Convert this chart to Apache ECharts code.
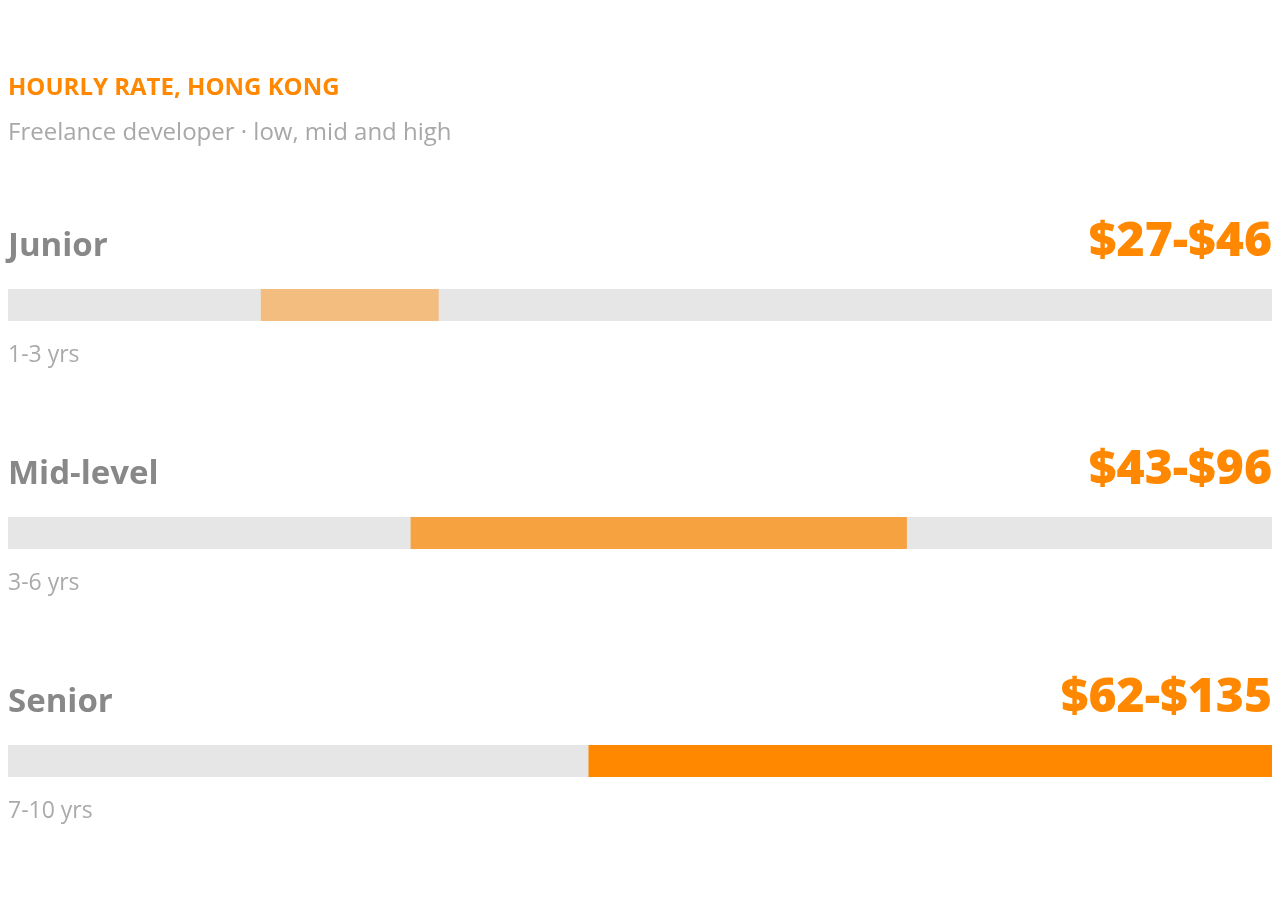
<!DOCTYPE html>
<html>
<head>
<meta charset="utf-8">
<title>Hourly rate, Hong Kong</title>
<style>
  html, body { margin: 0; padding: 0; background: #ffffff; }
  #chart { width: 1280px; height: 920px; }
</style>
</head>
<body>
<div id="chart"></div>
<script src="https://cdn.jsdelivr.net/npm/echarts@6/dist/echarts.min.js"></script>
<script>
// data
var levels = ['Junior', 'Mid-level', 'Senior'];
var years = ['1-3 yrs', '3-6 yrs', '7-10 yrs'];
var lowRate = [27, 43, 62];
var highRate = [46, 96, 135];
var barColors = ['#f3bd80', '#f7a240', '#ff8800'];
var axisMax = 135;

var font = '"Open Sans", "Noto Sans", sans-serif';
var track = levels.map(function () { return axisMax; });
var span = levels.map(function (n, i) {
  return { value: highRate[i] - lowRate[i], itemStyle: { color: barColors[i] } };
});

var chart = echarts.init(document.getElementById('chart'));

var option = {
  backgroundColor: '#ffffff',
  animation: false,
  title: {
    text: 'HOURLY RATE, HONG KONG',
    subtext: 'Freelance developer \u00b7 low, mid and high',
    left: 0,
    top: 76,
    padding: [0, 8],
    itemGap: 21,
    textStyle: { fontFamily: font, fontSize: 24, fontWeight: 'bold', color: '#ff8800' },
    subtextStyle: { fontFamily: font, fontSize: 24, color: '#a8a8a8' }
  },
  grid: { left: 8, right: 8, top: 191, bottom: 45 },
  xAxis: { type: 'value', min: 0, max: axisMax, show: false },
  yAxis: { type: 'category', data: levels, inverse: true, show: false },
  series: [
    {
      // grey track + level name
      type: 'bar', data: track, barWidth: 32, barGap: '-100%', silent: true,
      itemStyle: { color: '#e6e6e6' },
      label: {
        show: true, position: [0, -42], align: 'left', verticalAlign: 'middle',
        formatter: function (p) { return levels[p.dataIndex]; },
        fontFamily: font, fontSize: 33, fontWeight: 'bold', color: '#888888'
      }
    },
    {
      // range text on the right
      type: 'bar', data: track, barWidth: 32, barGap: '-100%', silent: true,
      itemStyle: { color: 'rgba(0,0,0,0)' },
      label: {
        show: true, position: ['100%', -47], align: 'right', verticalAlign: 'middle',
        formatter: function (p) { return '$' + lowRate[p.dataIndex] + '-$' + highRate[p.dataIndex]; },
        fontFamily: font, fontSize: 48, fontWeight: 800, color: '#ff8800'
      }
    },
    {
      // years under the track
      type: 'bar', data: track, barWidth: 32, barGap: '-100%', silent: true,
      itemStyle: { color: 'rgba(0,0,0,0)' },
      label: {
        show: true, position: [0, 66], align: 'left', verticalAlign: 'middle',
        formatter: function (p) { return years[p.dataIndex]; },
        fontFamily: font, fontSize: 23, color: '#aaaaaa'
      }
    },
    {
      type: 'bar', stack: 'range', data: lowRate, barWidth: 32, silent: true,
      itemStyle: { color: 'rgba(0,0,0,0)' }
    },
    {
      type: 'bar', stack: 'range', data: span, barWidth: 32, silent: true
    }
  ]
};

chart.setOption(option);
</script>
</body>
</html>
